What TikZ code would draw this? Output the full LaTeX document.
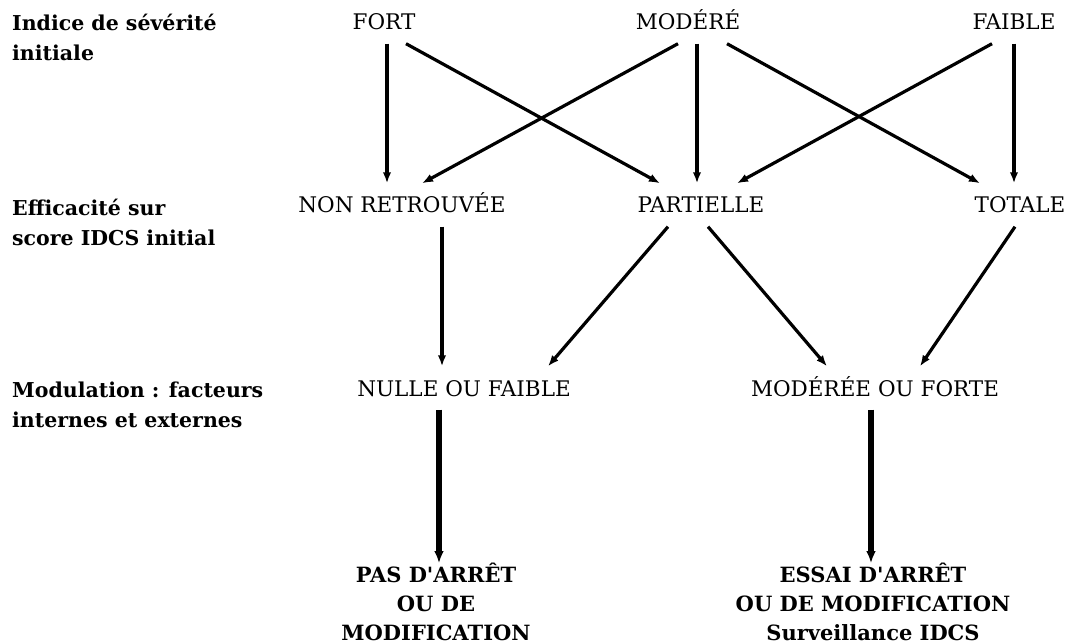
\documentclass[tikz,border=0pt]{standalone}
\usepackage{fontspec}
\setmainfont{DejaVu Serif}
\usepackage{tikz}
\usetikzlibrary{arrows.meta}
\tikzstyle{level}=[inner xsep=0pt, inner ysep=13.5pt, text height=16pt, text depth=0pt, font=\fontsize{21.5}{28}\selectfont]
\tikzstyle{rowlabel}=[inner sep=0pt, anchor=west, align=left, font=\fontsize{20.5}{30}\selectfont\bfseries]
\tikzstyle{decision}=[inner sep=0pt, anchor=north, align=center, font=\fontsize{21}{29}\selectfont\bfseries]
\tikzstyle{link}=[line width=3.2pt, -{Latex[length=11pt,width=8.5pt]}]
\tikzstyle{biglink}=[line width=5.5pt, -{Latex[length=12pt,width=10pt]}]

\begin{document}
\begin{tikzpicture}[x=1pt, y=-1pt]
        \useasboundingbox (0, 0) rectangle (1077, 644);
        \node[rowlabel] (R1) at (12, 37)  {Indice de sévérité\\initiale};
        \node[rowlabel] (R2) at (12, 222) {Efficacité sur\\score IDCS initial};
        \node[rowlabel] (R3) at (12, 405) {Modulation : facteurs\\internes et externes};
        \node[level] (fort)      at (384, 22)  {FORT};
        \node[level] (modere)    at (688, 22)  {MODÉRÉ};
        \node[level] (faible)    at (1014, 22) {FAIBLE};
        \node[level] (nonret)    at (402, 205) {NON RETROUVÉE};
        \node[level] (partielle) at (701, 205) {PARTIELLE};
        \node[level] (totale)    at (1020, 205) {TOTALE};
        \node[level] (nulle)     at (464, 388) {NULLE OU FAIBLE};
        \node[level] (modforte)  at (875, 388) {MODÉRÉE OU FORTE};
        \node[decision] (pas)    at (436, 563) {PAS D\textquotesingle ARRÊT\\OU DE\\MODIFICATION};
        \node[decision] (essai)  at (873, 563) {ESSAI D\textquotesingle ARRÊT\\OU DE MODIFICATION\\Surveillance IDCS};
        % severite -> efficacite
        \draw[link] ([xshift=3pt]fort.south) -- ([xshift=3pt]fort.south |- nonret.north);
        \draw[link] ([xshift=22pt]fort.south) -- ([xshift=-41pt]partielle.north);
        \draw[link] ([xshift=-10pt]modere.south) -- ([xshift=20pt]nonret.north);
        \draw[link] ([xshift=9pt]modere.south) -- ([xshift=9pt]modere.south |- partielle.north);
        \draw[link] ([xshift=39pt]modere.south) -- ([xshift=-40pt]totale.north);
        \draw[link] ([xshift=-22pt]faible.south) -- ([xshift=36pt]partielle.north);
        \draw[link] (faible.south) -- (faible.south |- totale.north);
        % efficacite -> modulation
        \draw[link] ([xshift=40pt]nonret.south) -- ([xshift=40pt]nonret.south |- nulle.north);
        \draw[link] ([xshift=-33pt]partielle.south) -- ([xshift=84pt]nulle.north);
        \draw[link] ([xshift=7pt]partielle.south) -- ([xshift=-48pt]modforte.north);
        \draw[link] ([xshift=-5pt]totale.south) -- ([xshift=45pt]modforte.north);
        % modulation -> decision
        \draw[biglink] ([xshift=-25pt]nulle.south) -- ([xshift=-25pt]nulle.south |- pas.north);
        \draw[biglink] ([xshift=-4pt]modforte.south) -- ([xshift=-4pt]modforte.south |- essai.north);
    \end{tikzpicture}
\end{document}
